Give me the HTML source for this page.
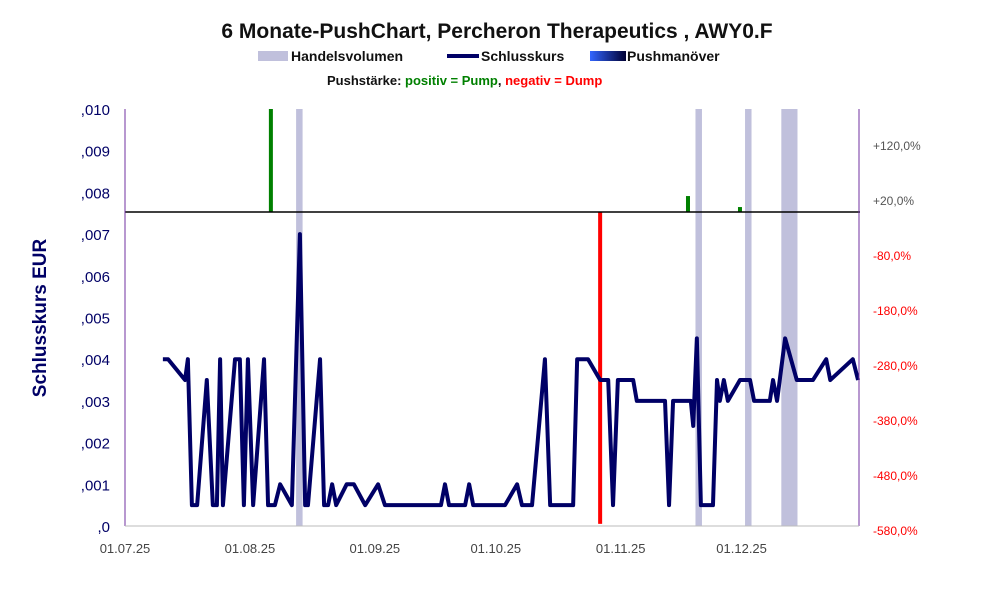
<!DOCTYPE html>
<html><head><meta charset="utf-8"><style>
body{margin:0;background:#fff;width:991px;height:591px;overflow:hidden;font-family:"Liberation Sans",sans-serif}
</style></head><body>
<svg id="c" width="991" height="591" xmlns="http://www.w3.org/2000/svg">
<text x="497" y="38" text-anchor="middle" font-size="21" font-weight="bold" fill="#111">6 Monate-PushChart, Percheron Therapeutics , AWY0.F</text>
<g font-size="14" font-weight="bold" fill="#111">
<rect x="258" y="51" width="30" height="10" fill="#c0c0dc"/>
<text x="291" y="61">Handelsvolumen</text>
<rect x="447" y="54" width="32" height="4" fill="#000066"/>
<text x="481" y="61">Schlusskurs</text>
<defs><linearGradient id="g"><stop offset="0" stop-color="#3366ff"/><stop offset="1" stop-color="#000033"/></linearGradient></defs>
<rect x="590" y="51" width="36" height="10" fill="url(#g)"/>
<text x="627" y="61">Pushmanöver</text>
<text x="327" y="85" font-size="13">Pushstärke:  <tspan fill="#008000">positiv = Pump</tspan>,  <tspan fill="#ff0000">negativ = Dump</tspan></text>
</g>
<text transform="translate(46,318) rotate(-90)" text-anchor="middle" font-size="19" font-weight="bold" fill="#000066">Schlusskurs EUR</text>
<g id="vol"></g><g id="push"></g><g id="line"></g><g id="axes"></g>
</svg>
<script>
const volDays=[43.2,142.3,154.6,163.6,164.6,165.6,166.0];
const pushDays=[36.2,117.9,139.7,152.6];
const pushPct=[200,-567,29,9];
const closeDays=[9.4,10.7,14.9,15.6,16.6,17.9,20.3,21.8,22.8,23.6,24.3,27.3,28.5,29.5,30.5,31.8,34.5,35.5,37.2,38.5,41.4,43.4,44.7,45.4,48.4,49.4,50.4,51.4,52.4,55,56.8,59.6,62.8,64.5,78.4,79.4,80.4,84.4,85.4,86.4,94.3,97.3,98.5,101,104.2,105.5,111.2,112.2,114.9,117.9,119.9,121.1,122.3,126.1,127,134,135,136,140.4,141,141.9,142.9,145.9,146.9,147.6,148.6,149.6,152.6,155.1,156.1,160,160.8,161.8,163.8,166.7,170.7,174,175,180.6,181.9];
const closeVals=[.004,.004,.0035,.004,.0005,.0005,.0035,.0005,.0005,.004,.0005,.004,.004,.0005,.004,.0005,.004,.0005,.0005,.001,.0005,.007,.0005,.0005,.004,.0005,.0005,.001,.0005,.001,.001,.0005,.001,.0005,.0005,.001,.0005,.0005,.001,.0005,.0005,.001,.0005,.0005,.004,.0005,.0005,.004,.004,.0035,.0035,.0005,.0035,.0035,.003,.003,.0005,.003,.003,.0024,.0045,.0005,.0005,.0035,.003,.0035,.003,.0035,.0035,.003,.003,.0035,.003,.0045,.0035,.0035,.004,.0035,.004,.0035];
const yTicks=[0,.001,.002,.003,.004,.005,.006,.007,.008,.009,.010];
const yTickLabels=[",0",",001",",002",",003",",004",",005",",006",",007",",008",",009",",010"];
const rTicks=[120,20,-80,-180,-280,-380,-480,-580];
const xTickDays=[0,31,62,92,123,153];
const xTickLabels=["01.07.25","01.08.25","01.09.25","01.10.25","01.11.25","01.12.25"];
const L=125,R=859,T=109,B=526,NS="http://www.w3.org/2000/svg";
const x=d=>L+d*4.03, y=v=>B-(v/0.010)*(B-T);
const base=212, yp=p=>Math.max(T,Math.min(B-2,base-p*0.55));
function mk(t,a,p){const e=document.createElementNS(NS,t);for(const k in a)e.setAttribute(k,a[k]);document.getElementById(p).appendChild(e);return e;}
volDays.forEach((d,i)=>{const e=mk('rect',{x:x(d)-3,y:T,width:6.5,height:B-T,fill:'#c0c0dc'},'vol');

});
pushDays.forEach((d,i)=>{const p=pushPct[i];const a=yp(p);const e=mk('rect',{x:x(d)-2,y:Math.min(a,base),width:4,height:Math.abs(a-base),fill:p>=0?'#008000':'#ff0000'},'push');

});
const ln=mk('polyline',{points:closeDays.map((d,i)=>x(d)+','+y(closeVals[i])).join(' '),fill:'none',stroke:'#000066','stroke-width':4,'stroke-linejoin':'round'},'line');


const bl=mk('line',{x1:L,x2:R+1,y1:base,y2:base,stroke:'#000','stroke-width':1.5},'axes');


const la=mk('line',{x1:L,x2:L,y1:T,y2:B,stroke:'#7030a0'},'axes');


const ra=mk('line',{x1:R,x2:R,y1:T,y2:B,stroke:'#7030a0'},'axes');


const xa=mk('line',{x1:L,x2:R,y1:B,y2:B,stroke:'#bbb'},'axes');


yTicks.forEach((v,i)=>{const t=mk('text',{x:110,y:y(v)+6,'text-anchor':'end','font-size':15,fill:'#000066'},'axes');t.textContent=yTickLabels[i];

});
rTicks.forEach(p=>{const t=mk('text',{x:873,y:base-p*0.55+4,'font-size':12,fill:p>=0?'#555':'#ff0000'},'axes');t.textContent=(p>0?'+':'')+p+',0%';

});
xTickDays.forEach((d,i)=>{const t=mk('text',{x:x(d),y:553,'text-anchor':'middle','font-size':13,fill:'#444'},'axes');t.textContent=xTickLabels[i];

});
</script>
</body></html>
